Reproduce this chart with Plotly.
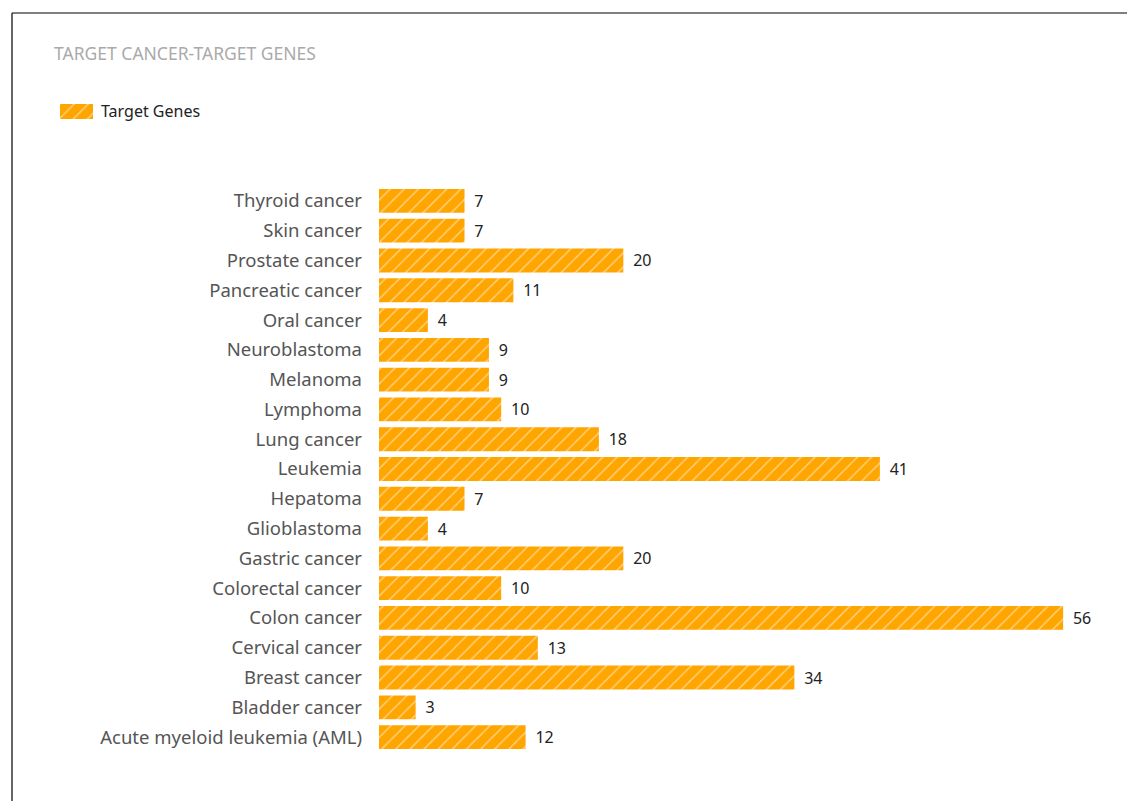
import plotly.graph_objects as go

categories = ["Acute myeloid leukemia (AML)", "Bladder cancer", "Breast cancer", "Cervical cancer",
              "Colon cancer", "Colorectal cancer", "Gastric cancer", "Glioblastoma", "Hepatoma",
              "Leukemia", "Lung cancer", "Lymphoma", "Melanoma", "Neuroblastoma", "Oral cancer",
              "Pancreatic cancer", "Prostate cancer", "Skin cancer", "Thyroid cancer"]
values = [12, 3, 34, 13, 56, 10, 20, 4, 7, 41, 18, 10, 9, 9, 4, 11, 20, 7, 7]
series_name = "Target Genes"
title_text = "TARGET CANCER-TARGET GENES"

OFF = 8  # default page body margin
W, H = 1135 - OFF, 801 - OFF


def fx(x):
    return (x - OFF) / W


def fy(y):
    return 1 - (y - OFF) / H


ORANGE = "#FFA500"
pattern = dict(shape="/", fgcolor="white", bgcolor=ORANGE, size=10, solidity=0.15)

fig = go.Figure()
fig.add_trace(go.Bar(
    y=categories, x=values, orientation="h", name=series_name, showlegend=False,
    marker=dict(color=ORANGE, line=dict(width=0), pattern=pattern),
    text=values, texttemplate=" \u2009%{text}", textposition="outside", cliponaxis=False,
    textfont=dict(color="#222222", size=16, family="Noto Sans"),
    hoverinfo="x+y",
))

# legend swatch (custom, wider than plotly's default symbol)
fig.add_trace(go.Bar(
    x=[1], y=[0], orientation="h", width=1, xaxis="x2", yaxis="y2", showlegend=False,
    marker=dict(color=ORANGE, line=dict(width=0), pattern=pattern), hoverinfo="skip",
))

fig.update_layout(
    width=W, height=H,
    margin=dict(l=0, r=0, t=0, b=0, autoexpand=False),
    paper_bgcolor="white", plot_bgcolor="white",
    bargap=0.2,
    showlegend=False,
    xaxis=dict(domain=[fx(379), fx(1112)], range=[0, 60], showgrid=False, showticklabels=False,
               zeroline=False, showline=False, ticks=""),
    yaxis=dict(domain=[fy(752), fy(186)], showgrid=False, zeroline=False, showline=False, ticks="",
               ticklabelstandoff=16, automargin=False,
               tickfont=dict(size=18.5, color="#555555", family="Noto Sans")),
    xaxis2=dict(domain=[fx(60), fx(93)], range=[0, 1], visible=False, anchor="y2"),
    yaxis2=dict(domain=[fy(119), fy(104)], range=[-0.5, 0.5], visible=False, anchor="x2"),
    font=dict(family="Noto Sans"),
)

fig.add_annotation(text=series_name, xref="paper", yref="paper",
                   x=fx(99), y=fy(111), xanchor="left", yanchor="middle", showarrow=False,
                   font=dict(size=16, color="#222222", family="Noto Sans"))

fig.add_annotation(text=title_text, xref="paper", yref="paper",
                   x=fx(52), y=fy(53), xanchor="left", yanchor="middle", showarrow=False,
                   font=dict(size=17.5, color="#AAAAAA", family="Noto Sans"))

fig.add_shape(type="line", xref="paper", yref="paper", x0=fx(12), x1=fx(1135), y0=fy(13), y1=fy(13),
              line=dict(color="black", width=1.2))
fig.add_shape(type="line", xref="paper", yref="paper", x0=fx(12), x1=fx(12), y0=fy(13), y1=fy(801),
              line=dict(color="black", width=1.2))

fig.write_html("out.html")
